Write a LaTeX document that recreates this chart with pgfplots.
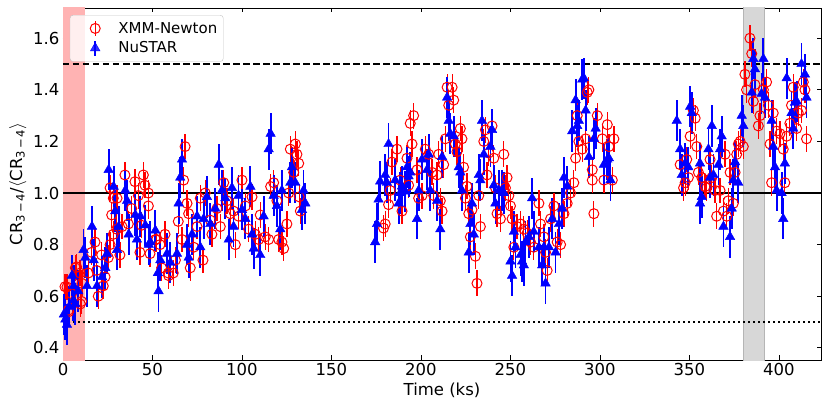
\documentclass[border=0pt]{standalone}
\usepackage{fontspec}
\setmainfont{DejaVu Sans}
\usepackage{pgfplots}
\pgfplotsset{compat=1.18}
\definecolor{shadered}{HTML}{FFB3B3}
\definecolor{shadegrey}{HTML}{D7D7D7}
\definecolor{edgegrey}{HTML}{B5B5B5}
\begin{document}
\begin{tikzpicture}
\begin{axis}[
  name=ax, scale only axis, width=758pt, height=352pt,
  xmin=0, xmax=423.5, ymin=0.353, ymax=1.717,
  xtick={0,50,...,400}, ytick={0.4,0.6,...,1.6},
  tick align=inside, major tick length=4.5pt,
  every tick/.style={black, line width=0.8pt},
  axis line style={line width=0.8pt},
  font=\fontsize{16.5}{19}\selectfont,
  /pgf/number format/assume math mode=true,
  yticklabel style={/pgf/number format/fixed,/pgf/number format/precision=1,/pgf/number format/fixed zerofill},
  xlabel={Time (ks)},
  ylabel={CR\textsubscript{3\,−\,4}/$\langle$CR\textsubscript{3\,−\,4}$\rangle$},
  legend style={at={(0.009,0.98)}, anchor=north west, draw=edgegrey!80, rounded corners=3pt, fill=white, fill opacity=0.8, text opacity=1, inner xsep=4pt, inner ysep=5pt, row sep=3pt, font=\fontsize{15}{17}\selectfont},
  legend cell align=left,
]
\addplot[fill=shadered, draw=shadered, forget plot] coordinates {(0,0.3) (0,1.8) (11.7,1.8) (11.7,0.3)} -- cycle;
\addplot[fill=shadegrey, draw=edgegrey, line width=0.8pt, forget plot] coordinates {(380,0.3) (380,1.8) (392,1.8) (392,0.3)} -- cycle;
\addplot[black, line width=1.6pt, forget plot] coordinates {(0,1) (423.5,1)};
\addplot[black, line width=1.6pt, dash pattern=on 6.5pt off 3.5pt, forget plot] coordinates {(0,1.5) (423.5,1.5)};
\addplot[black, line width=1.8pt, dash pattern=on 2pt off 3pt, forget plot] coordinates {(0,0.5) (423.5,0.5)};

\addplot[only marks, red, mark=o, mark size=5pt, mark options={line width=1pt, fill=none},
  error bars/.cd, y dir=both, y fixed=0.05, error mark=none, error bar style={red, line width=1.2pt},
  /pgfplots/legend image code/.code={\path (0pt,0pt) (42pt,0pt); \draw[red, line width=1.2pt] (21pt,-7.5pt) -- (21pt,7.5pt); \draw[red, line width=1pt] (21pt,0pt) circle (5pt);},
  ]
  table[x index=0, y index=1] {
1.1 0.637
2.2 0.636
3.0 0.546
3.2 0.54
4.8 0.61
6.9 0.71
7.6 0.714
9.5 0.69
9.7 0.57
10.4 0.58
10.6 0.65
14.2 0.69
16.0 0.77
17.9 0.81
18.8 0.70
19.7 0.60
21.6 0.76
22.5 0.64
23.5 0.675
25.3 0.75
26.3 0.80
26.3 1.02
27.2 0.915
28.1 0.98
28.1 0.84
30.0 0.86
30.2 0.98
31.8 0.76
33.0 0.87
34.6 1.07
36.5 0.88
38.4 0.94
40.2 1.044
42.1 0.99
43.0 0.77
43.9 0.875
44.9 1.07
45.8 1.03
47.7 1.00
47.7 0.95
48.6 0.765
51.6 0.82
52.3 0.82
54.2 0.80
55.1 0.71
57.0 0.84
58.8 0.69
59.0 0.68
61.6 0.69
62.8 0.74
64.4 0.89
66.5 0.82
67.4 1.05
68.2 1.18
69.3 0.96
70.2 0.92
71.1 0.71
73.0 0.79
74.9 0.87
76.7 0.98
78.2 0.74
79.5 1.00
82.3 0.895
83.2 0.84
86.0 0.94
87.9 0.87
89.8 1.04
91.6 0.97
93.5 0.92
95.3 0.93
96.3 0.80
98.1 0.91
100.0 1.05
101.9 0.95
103.7 0.86
105.6 0.985
107.5 0.84
109.3 0.82
110.2 0.915
113.0 0.83
114.9 0.82
116.0 1.025
117.7 1.04
119.5 0.97
120.5 0.82
122.3 0.81
123.3 0.785
125.1 0.88
126.1 1.00
127.0 1.17
128.9 1.08
129.8 1.19
130.7 1.15
131.7 1.115
132.0 0.985
132.6 0.93
179.1 0.864
180.0 0.88
181.9 0.955
182.8 1.01
183.8 1.12
186.6 1.17
188.4 1.05
189.4 0.93
192.2 1.135
193.1 1.03
194.0 1.27
195.0 1.19
195.9 1.30
197.8 1.09
198.7 0.98
200.6 0.99
202.4 1.17
204.3 1.15
206.2 1.08
207.1 0.99
209.0 1.07
209.9 1.15
210.8 0.97
211.8 0.93
212.7 1.11
213.6 1.21
214.6 1.41
215.5 1.34
217.4 1.41
218.3 1.36
219.2 1.19
220.1 1.16
222.0 1.25
222.9 1.21
223.8 1.10
224.8 0.98
225.7 1.026
226.7 0.92
227.6 0.83
228.5 0.935
230.4 0.755
231.3 0.65
232.3 0.99
233.2 0.87
235.1 1.20
236.0 1.245
236.9 1.07
237.8 1.155
239.7 1.26
240.7 1.135
241.6 1.02
242.5 0.92
244.4 0.90
246.3 1.15
247.2 1.02
248.1 1.06
249.1 0.99
250.0 0.95
250.9 0.90
251.9 0.79
253.7 0.87
255.6 0.88
257.5 0.86
259.3 0.845
261.2 0.81
263.0 0.79
265.9 0.96
266.8 0.88
268.7 0.83
269.6 0.77
270.5 0.70
272.4 0.90
274.3 0.95
276.1 0.81
278.0 0.80
279.9 0.92
281.7 0.96
283.6 1.00
285.4 1.04
286.4 1.135
287.3 1.30
288.2 1.20
290.1 1.17
292.0 1.21
292.9 1.39
293.8 1.40
295.7 1.09
295.7 1.05
296.6 0.92
298.5 1.30
301.3 1.21
302.2 1.05
304.1 1.265
305.0 1.18
306.9 1.05
307.8 1.21
344.8 1.11
346.7 1.02
347.6 1.04
348.5 1.13
349.4 1.06
350.4 1.22
352.2 1.32
353.2 1.29
354.1 1.18
355.0 1.08
356.9 1.06
358.7 1.025
359.7 1.02
361.5 1.13
362.5 1.06
364.3 1.01
365.2 0.91
367.1 1.01
369.0 0.93
369.9 1.15
370.8 0.91
371.7 0.97
372.7 1.08
374.5 0.96
375.5 1.08
376.4 1.15
377.3 1.19
378.3 1.20
380.1 1.18
381.0 1.46
381.9 1.40
383.8 1.60
384.8 1.54
385.7 1.355
386.6 1.42
388.5 1.26
389.4 1.30
391.3 1.40
393.1 1.43
394.1 1.34
395.0 1.19
395.9 1.04
396.8 1.31
398.7 1.24
400.6 1.23
402.4 1.17
403.3 1.04
404.3 1.22
406.1 1.27
407.0 1.34
408.0 1.41
409.9 1.25
410.8 1.31
412.6 1.32
413.6 1.43
414.5 1.40
415.4 1.21
};
\addlegendentry{XMM-Newton}

\addplot[only marks, blue, mark=triangle*, mark size=5.5pt, mark options={fill=blue, draw=blue},
  error bars/.cd, y dir=both, y fixed=0.08, error mark=none, error bar style={blue, line width=1.8pt},
  /pgfplots/legend image code/.code={\path (0pt,0pt) (42pt,0pt); \draw[blue, line width=1.8pt] (21pt,-7.5pt) -- (21pt,7.5pt); \draw[blue, fill=blue, mark=triangle*, mark size=5.5pt, mark options={fill=blue, draw=blue}] plot coordinates {(21pt,0pt)};},
  ]
  table[x index=0, y index=1] {
0.5 0.53
1.3 0.51
2.2 0.49
3.5 0.56
5.0 0.68
5.8 0.585
6.0 0.64
6.9 0.57
8.5 0.62
11.5 0.78
12.5 0.75
13.4 0.64
16.2 0.87
17.1 0.74
19.0 0.64
21.8 0.675
23.6 0.71
24.6 0.765
25.5 1.09
28.3 1.025
29.2 0.93
30.2 0.78
31.1 0.87
34.8 1.01
35.8 0.97
36.7 0.84
40.4 0.915
41.3 0.82
43.2 0.91
46.0 0.875
47.9 0.80
48.8 0.81
51.6 0.855
53.0 0.69
53.4 0.62
54.4 0.74
58.1 0.765
60.0 0.73
63.7 0.765
64.6 0.96
65.5 1.06
66.5 1.13
69.3 0.80
70.2 0.75
72.1 0.84
74.9 0.91
76.7 0.79
78.6 0.90
80.4 0.985
82.3 0.88
85.1 0.94
87.0 1.11
88.8 1.01
90.7 0.98
92.6 0.82
94.4 1.02
95.3 0.87
98.1 0.99
100.0 0.935
101.9 0.90
104.7 1.025
105.6 0.84
106.6 0.785
110.2 0.76
112.1 0.91
114.9 1.17
116.0 1.23
117.7 0.99
119.5 0.95
121.4 0.86
122.3 1.01
127.0 1.04
127.9 1.10
129.8 1.04
133.5 0.935
134.4 1.01
135.4 0.96
174.4 0.81
175.4 0.88
176.3 0.975
177.2 1.045
180.0 1.07
181.0 1.04
181.9 1.19
185.6 1.05
187.5 0.96
188.4 1.00
189.4 1.026
191.2 1.006
192.2 1.10
193.1 1.065
194.0 1.08
197.8 0.90
198.7 1.01
200.6 1.13
203.4 1.09
204.3 1.15
205.2 1.01
209.0 0.97
210.8 0.86
211.8 1.14
214.6 1.37
215.5 1.28
216.4 1.23
218.3 1.22
221.1 1.10
222.0 1.08
222.9 1.01
226.7 0.77
227.6 0.88
228.5 0.96
229.5 0.84
232.3 1.07
233.2 1.05
234.1 1.28
235.1 1.15
238.8 1.18
239.7 1.245
240.7 1.03
241.6 0.96
243.5 1.01
245.3 1.01
246.3 1.00
250.0 0.735
250.9 0.68
251.9 0.85
252.8 0.79
255.6 0.76
256.5 0.735
257.5 0.72
258.4 0.81
260.3 0.83
262.1 0.98
263.0 0.85
265.9 0.79
267.7 0.72
268.7 0.79
269.6 0.65
271.5 0.79
273.3 0.90
275.2 0.77
277.1 0.88
278.9 0.94
279.9 1.06
281.7 1.026
284.5 1.24
286.4 1.36
287.3 1.26
288.2 1.28
290.1 1.44
291.0 1.445
292.0 1.32
293.8 1.14
296.6 1.21
297.6 1.25
302.2 1.11
304.1 1.13
305.0 1.135
305.9 1.05
342.9 1.28
344.8 1.17
345.7 1.07
347.6 1.115
349.4 1.10
350.4 1.335
351.3 1.31
355.9 1.115
355.9 0.96
356.9 0.985
360.6 1.17
361.5 1.06
362.5 1.26
363.4 1.07
366.2 1.11
367.1 1.17
368.0 1.22
369.0 0.87
372.7 0.83
373.6 0.94
374.5 1.05
375.5 1.12
377.3 1.04
379.2 1.30
380.1 1.26
384.8 1.39
385.7 1.52
386.6 1.48
390.3 1.385
391.3 1.52
392.2 1.37
395.9 1.28
396.8 1.18
397.8 1.10
398.7 1.01
401.5 1.00
402.4 0.90
403.3 1.115
404.3 1.445
407.0 1.31
408.0 1.25
408.9 1.35
409.9 1.355
412.6 1.50
414.5 1.46
415.4 1.37
};
\addlegendentry{NuSTAR}
\end{axis}
\path ([xshift=-63pt,yshift=-52pt]ax.south west) rectangle ([xshift=9pt,yshift=8pt]ax.north east);
\end{tikzpicture}
\end{document}
